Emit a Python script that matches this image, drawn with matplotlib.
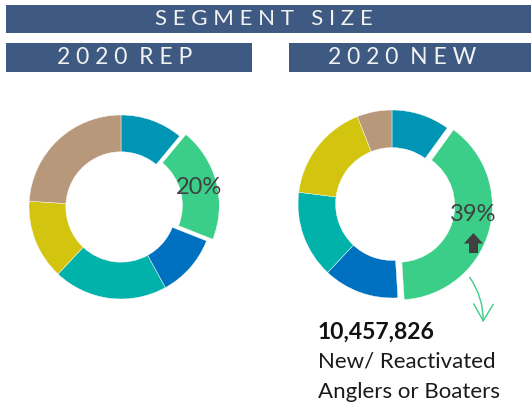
import matplotlib
matplotlib.use("Agg")
import matplotlib.pyplot as plt
from matplotlib.patches import Rectangle, Polygon, FancyArrowPatch
import numpy as np

# ---------------- data ----------------
segments = ["Segment 1", "Segment 2", "Segment 3", "Segment 4", "Segment 5", "Segment 6"]
rep_values = [11, 20, 11, 20, 14, 24]
new_values = [10, 39, 13, 15, 17, 6]
highlight_index = 1
rep_label = "20%"
new_label = "39%"
title = "SEGMENT SIZE"
panel_titles = ["2020 REP", "2020 NEW"]
callout_number = "10,457,826"
callout_text = ["New/ Reactivated", "Anglers or Boaters"]

# ---------------- style ----------------
colors = ["#0095B5", "#3ACE88", "#0070C0", "#00B2A9", "#D3C40F", "#B8987A"]
band_color = "#3E5A82"
band_text = "#F2F2F2"
pct_color = "#404040"
FONT = "Lato"

W, H = 531, 409
fig = plt.figure(figsize=(W / 100, H / 100), dpi=100)
fig.patch.set_facecolor("white")


def fx(x):
    return x / W


def fy(y):
    return 1 - y / H


def spaced(s, gap=" ", word="   "):
    return word.join(gap.join(list(w)) for w in s.split(" "))


def band(x0, y0, x1, y1):
    fig.patches.append(Rectangle((fx(x0), fy(y1)), fx(x1) - fx(x0), fy(y0) - fy(y1),
                                 transform=fig.transFigure, facecolor=band_color,
                                 edgecolor="none", zorder=0))


band(6, 5, 531, 33)
band(6, 43, 252, 72)
band(289, 43, 531, 72)

fig.text(fx(264), fy(19), spaced(title, word="   "), ha="center", va="center", color=band_text,
         fontsize=16, family=FONT)
fig.text(fx(125), fy(57.5), spaced(panel_titles[0], word="  "), ha="center", va="center",
         color=band_text, fontsize=16.5, family=FONT)
fig.text(fx(402), fy(57.5), spaced(panel_titles[1], word="  "), ha="center", va="center",
         color=band_text, fontsize=16.5, family=FONT)


def donut(cx, cy, R, values, label, label_shift_deg=0.0, pad=1.25):
    half = R * pad
    ax = fig.add_axes([fx(cx - half), fy(cy + half), 2 * half / W, 2 * half / H])
    ax.axis("off")
    explode = [0.07 if i == highlight_index else 0 for i in range(len(values))]
    wedges, _ = ax.pie(values, colors=colors, startangle=90, counterclock=False,
                       explode=explode, radius=1.0,
                       wedgeprops=dict(width=0.4, edgecolor="white", linewidth=0.3))
    ax.set_xlim(-pad, pad)
    ax.set_ylim(-pad, pad)
    w = wedges[highlight_index]
    mid = np.deg2rad((w.theta1 + w.theta2) / 2 + label_shift_deg)
    r = 0.07 + 0.8
    ax.text(r * np.cos(mid), r * np.sin(mid), label, ha="center", va="center",
            color=pct_color, fontsize=17, family=FONT)
    return ax


donut(121, 207, 92, rep_values, rep_label)
ax2 = donut(392, 204, 94, new_values, new_label, label_shift_deg=9)

# small upward arrow icon under 39%
icon = [(473.5, 233), (483, 243.5), (478, 243.5), (478, 253), (469, 253), (469, 243.5), (464, 243.5)]
fig.patches.append(Polygon([(fx(x), fy(y)) for x, y in icon], closed=True,
                           transform=fig.transFigure, facecolor="#404040",
                           edgecolor="none", zorder=5))

# callout arrow
fig.add_artist(FancyArrowPatch(
    (fx(468), fy(275)), (fx(483), fy(325)), transform=fig.transFigure,
    connectionstyle="arc3,rad=-0.18", arrowstyle="->,head_length=5.5,head_width=3.2",
    color="#3ACE88", lw=1.0, mutation_scale=2.2))

fig.text(fx(318), fy(332), callout_number, ha="left", va="center", color="#111111",
         fontsize=16.5, fontweight="bold", family=FONT)
fig.text(fx(318), fy(362), callout_text[0], ha="left", va="center", color="#1A1A1A",
         fontsize=16, family=FONT)
fig.text(fx(318), fy(392), callout_text[1], ha="left", va="center", color="#1A1A1A",
         fontsize=16, family=FONT)

fig.savefig("out.png", dpi=100, facecolor="white")
